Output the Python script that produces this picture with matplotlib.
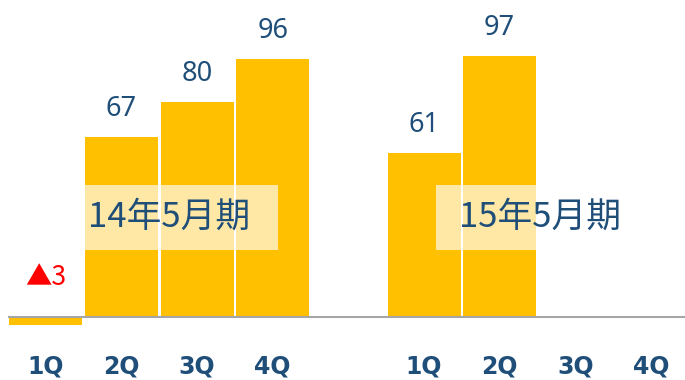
import matplotlib.pyplot as plt
import matplotlib.patches as mpatches
import numpy as np

# quarterly values, 14年5月期 then 15年5月期 (nan = not yet reported)
quarters = ['1Q', '2Q', '3Q', '4Q', '1Q', '2Q', '3Q', '4Q']
fy14 = [-3, 67, 80, 96]
fy15 = [61, 97, np.nan, np.nan]
periods = ['14年5月期', '15年5月期']

values = np.array(fy14 + fy15, dtype=float)
pos = np.array([0, 1, 2, 3, 5, 6, 7, 8])

bar_color = '#FFC000'
text_color = '#1F4E79'

fig = plt.figure(figsize=(6.85, 3.8), dpi=100)
ax = fig.add_axes([8/685, 0, 677/685, 1])
ax.set_xlim(-0.5, 8.45)
ax.set_ylim(-23.4, 117.8)
ax.axis('off')

ax.bar(pos, values, width=0.965, color=bar_color, zorder=2)
ax.axhline(0, color='#A6A6A6', lw=1.5, zorder=3)

for x, v in zip(pos, values):
    if np.isnan(v):
        continue
    if v < 0:
        ax.annotate('▲%d' % abs(v), (x, 0), xytext=(0, 19), textcoords='offset points',
                    ha='center', va='bottom', fontsize=19, color='#FF0000',
                    family=['Noto Sans CJK JP', 'DejaVu Sans'], zorder=5)
    else:
        ax.annotate('%d' % v, (x, v), xytext=(0, 10), textcoords='offset points',
                    ha='center', va='bottom', fontsize=19.5, color=text_color,
                    family='Noto Sans', zorder=5)

# quarter labels under the axis
for x, q in zip(pos, quarters):
    ax.text(x, -18.2, q, ha='center', va='center', fontsize=17, fontweight='bold',
            color=text_color, family='DejaVu Sans')

# period labels on semi-transparent boxes
for bx, tx, lab in [(0.515, 0.555, periods[0]), (5.154, 5.458, periods[1])]:
    ax.add_patch(mpatches.Rectangle((bx, 24.9), 2.55, 24.2, facecolor='white',
                                    alpha=0.65, edgecolor='none', zorder=4))
    ax.text(tx, 37.2, lab, ha='left', va='center', fontsize=25, color=text_color,
            family=['Noto Sans CJK JP', 'DejaVu Sans'], zorder=5)

fig.savefig('out.png', dpi=100)
